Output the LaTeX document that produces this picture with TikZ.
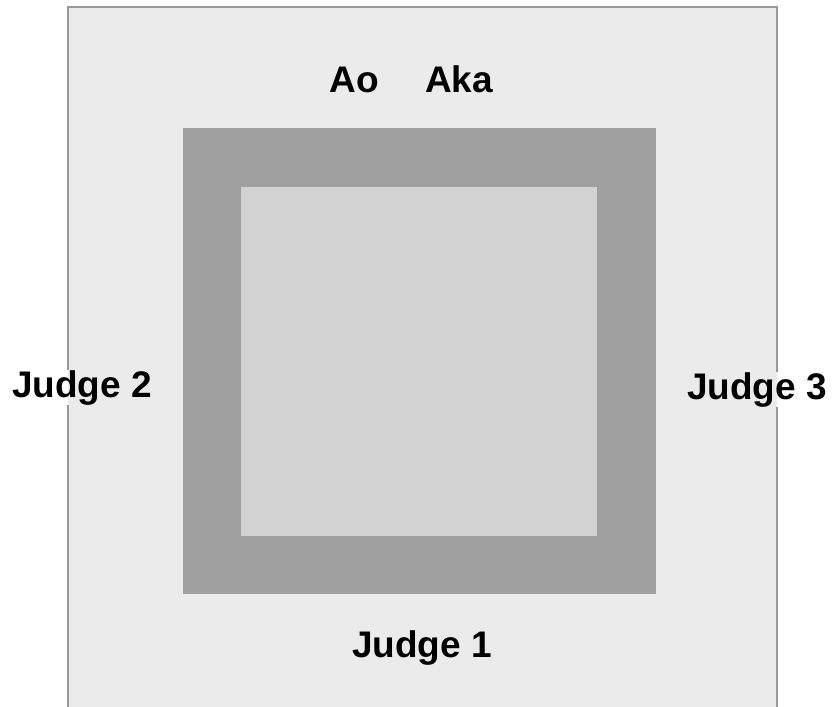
\documentclass[tikz,border=0pt]{standalone}
\usepackage{fontspec}
\setmainfont{Liberation Sans}
\usepackage{xcolor}
\definecolor{fieldx}{HTML}{EBEBEB}
\definecolor{edgex}{HTML}{999999}
\definecolor{bandx}{HTML}{A0A0A0}
\definecolor{matx}{HTML}{D2D2D2}
\begin{document}
\begin{tikzpicture}[
      x=1pt, y=-1pt,
      lbl/.style={anchor=base, inner sep=0pt, font=\fontsize{37}{41}\selectfont\bfseries},
      edge/.style={draw=edgex, line width=1.5pt}
    ]
    \useasboundingbox (0,0) rectangle (833,707);
    % areas
    \fill[fieldx] (68,7) rectangle (777,712);
    \fill[bandx]  (183,128) rectangle (656,594);
    \fill[matx]   (241,187) rectangle (597,536);
    % labels
    \node[lbl] (ao)  at (354,92)  {Ao};
    \node[lbl] (aka) at (459,92)  {Aka};
    \node[lbl] (j2)  at (82,397)  {Judge 2};
    \node[lbl] (j3)  at (757,399) {Judge 3};
    \node[lbl] (j1)  at (422,657) {Judge 1};
    % outer edge, broken by the side labels
    \coordinate (tl) at (68,7);
    \coordinate (tr) at (777,7);
    \draw[edge] (j2.north -| tl) -- (tl) -- (tr) -- (j3.north -| tr);
    \draw[edge] (j2.south -| tl) -- (68,712);
    \draw[edge] (j3.south -| tr) -- (777,712);
  \end{tikzpicture}
\end{document}
